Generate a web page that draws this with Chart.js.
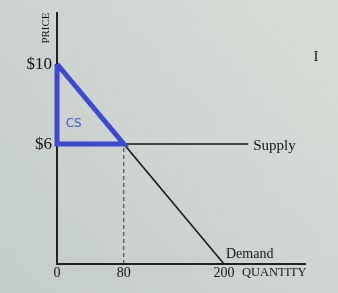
<!DOCTYPE html>
<html>
<head>
<meta charset="utf-8">
<script src="https://cdn.jsdelivr.net/npm/chart.js@4"></script>
<style>
html,body{margin:0;padding:0;background:#d2d8d3;}
#wrap{width:338px;height:293px;position:relative;}
</style>
</head>
<body>
<div id="wrap"><canvas id="c" width="338" height="293"></canvas></div>
<script>
// ---- data ----
const demandQ = [0, 200];
const demandP = [10, 0];
const supplyQ = [80, 229];
const supplyP = [6, 6];
const csQ = [0, 0, 80, 0];
const csP = [10, 6, 6, 10];
const eqQ = [80, 80];
const eqP = [0, 6];
const xTicks = [0, 80, 200];
const yTicks = [6, 10];
const xMax = 297;
const yMax = 12.55;

const pts = (xs, ys) => xs.map((x, i) => ({x: x, y: ys[i]}));

const bgPlugin = {
  id: 'bg',
  beforeDraw(chart) {
    const ctx = chart.ctx;
    const g = ctx.createLinearGradient(0, 293, 338, 0);
    g.addColorStop(0, '#c4ccc8');
    g.addColorStop(0.5, '#ced5d0');
    g.addColorStop(1, '#d8ddd7');
    ctx.save();
    ctx.fillStyle = g;
    ctx.fillRect(0, 0, chart.width, chart.height);
    ctx.restore();
  }
};

const labelPlugin = {
  id: 'labels',
  afterDraw(chart) {
    const ctx = chart.ctx;
    const xs = chart.scales.x, ys = chart.scales.y;
    const serif = '"Liberation Serif", "DejaVu Serif", serif';
    ctx.save();
    ctx.fillStyle = '#141414';
    // y tick labels
    ctx.font = '17px ' + serif;
    ctx.textAlign = 'right';
    ctx.textBaseline = 'middle';
    yTicks.forEach(v => ctx.fillText('$' + v, xs.left - 5, ys.getPixelForValue(v) + 1));
    // x tick labels
    ctx.font = '14px ' + serif;
    ctx.textAlign = 'center';
    ctx.textBaseline = 'middle';
    xTicks.forEach(v => ctx.fillText(String(v), xs.getPixelForValue(v), ys.bottom + 9));
    // axis titles
    ctx.font = '12.5px ' + serif;
    ctx.textAlign = 'left';
    ctx.fillText('QUANTITY', xs.getPixelForValue(200) + 18, ys.bottom + 9);
    ctx.save();
    ctx.translate(xs.left - 11, ys.top + 15);
    ctx.rotate(-Math.PI / 2);
    ctx.textAlign = 'center';
    ctx.textBaseline = 'middle';
    ctx.font = '11px ' + serif;
    ctx.fillText('PRICE', 0, 0);
    ctx.restore();
    // curve labels
    ctx.font = '15px ' + serif;
    ctx.textAlign = 'left';
    ctx.textBaseline = 'middle';
    ctx.fillText('Supply', xs.getPixelForValue(supplyQ[1]) + 5, ys.getPixelForValue(6) + 2);
    ctx.font = '14px ' + serif;
    ctx.fillText('Demand', xs.getPixelForValue(200) + 2, ys.getPixelForValue(0) - 10);
    // cursor glyph
    ctx.font = '15px ' + serif;
    ctx.textAlign = 'center';
    ctx.fillText('I', 316, 57);
    // CS
    ctx.fillStyle = '#4656d6';
    ctx.font = '12px "DejaVu Sans", sans-serif';
    ctx.textAlign = 'center';
    ctx.fillText('CS', xs.getPixelForValue(20), ys.getPixelForValue(7));
    ctx.restore();
  }
};

new Chart(document.getElementById('c'), {
  type: 'scatter',
  data: {
    datasets: [
      {label: 'CS', data: pts(csQ, csP), showLine: true, borderColor: '#3d49d3', borderWidth: 5, pointRadius: 0, borderJoinStyle: 'miter', clip: false},
      {label: 'Demand', data: pts(demandQ, demandP), showLine: true, borderColor: '#1a1a1a', borderWidth: 1.6, pointRadius: 0},
      {label: 'Supply', data: pts(supplyQ, supplyP), showLine: true, borderColor: '#1a1a1a', borderWidth: 1.6, pointRadius: 0},
      {label: 'Eq', data: pts(eqQ, eqP), showLine: true, borderColor: '#333', borderWidth: 1, borderDash: [4, 3], pointRadius: 0}
    ]
  },
  options: {
    responsive: false,
    animation: false,
    events: [],
    layout: {padding: {left: 57, right: 33, top: 13, bottom: 29}},
    plugins: {legend: {display: false}, tooltip: {enabled: false}},
    scales: {
      x: {type: 'linear', min: 0, max: xMax, grid: {display: false, drawTicks: false}, ticks: {display: false}, border: {display: true, color: '#222', width: 2}},
      y: {type: 'linear', min: 0, max: yMax, grid: {display: false, drawTicks: false}, ticks: {display: false}, border: {display: true, color: '#222', width: 2}}
    }
  },
  plugins: [bgPlugin, labelPlugin]
});
</script>
</body>
</html>
